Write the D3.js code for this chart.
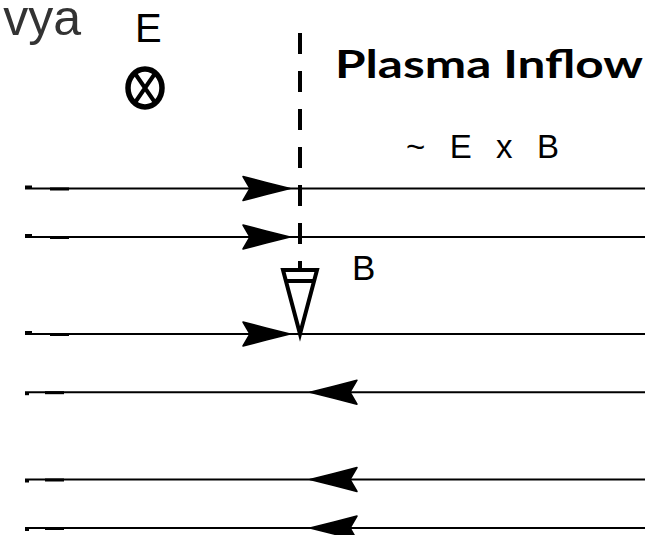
<!DOCTYPE html>
<html>
<head>
<meta charset="utf-8">
<script src="https://cdn.jsdelivr.net/npm/d3@7"></script>
<style>
  body { margin: 0; background: #fff; }
  svg { display: block; }
</style>
</head>
<body>
<svg id="viz"></svg>
<script>
// field lines: level (arbitrary units, 0 = lowest line above the sheet) and direction
const lineLevels = [3.0, 2.0, 0.0, -1.2, -3.0, -4.0];
const lineDirs   = [1, 1, 1, -1, -1, -1];

// labels
const labelVya    = "vya";
const labelE      = "E";
const labelInflow = "Plasma Inflow";
const labelExB    = "~ E x B";
const labelB      = "B";

const width = 662, height = 535;

const svg = d3.select("#viz")
  .attr("width", width)
  .attr("height", height);

// sheet sits at x = 0; 1 unit = 100px
const x = d3.scaleLinear().domain([-2.75, 3.45]).range([25, 645]);
const y = d3.scaleLinear().domain([0, 1]).range([334, 285.5]);

const lines = lineLevels.map((l, i) => ({ level: l, dir: lineDirs[i] }));

// horizontal field lines
svg.selectAll("line.field")
  .data(lines)
  .enter()
  .append("line")
  .attr("class", "field")
  .attr("x1", x(-2.75))
  .attr("x2", x(3.45))
  .attr("y1", d => y(d.level))
  .attr("y2", d => y(d.level))
  .attr("stroke", "#000")
  .attr("stroke-width", 2);

// little scanner blobs near the left edge
svg.selectAll("rect.blob")
  .data(lines)
  .enter()
  .append("rect")
  .attr("x", d => d.dir > 0 ? x(-2.5) : x(-2.55))
  .attr("y", d => y(d.level) - 1)
  .attr("width", 19)
  .attr("height", 3)
  .attr("fill", "#000");

svg.selectAll("rect.tick")
  .data(lines)
  .enter()
  .append("rect")
  .attr("x", x(-2.75))
  .attr("y", d => d.dir > 0 ? y(d.level) - 3 : y(d.level))
  .attr("width", d => d.dir > 0 ? 7 : 4)
  .attr("height", 3)
  .attr("fill", "#000");

// arrowheads: rightward ones end just left of the sheet, leftward ones just right
function arrowPath(d) {
  const s = d.dir;
  const tx = x(-0.1 * s), ty = y(d.level);
  const p = [
    [0, 0], [-24, -6], [-47, -12], [-40, 0], [-47, 12], [-24, 6]
  ].map(q => [tx + q[0] * s, ty + q[1]]);
  return "M" + p.join("L") + "Z";
}

svg.selectAll("path.arrow")
  .data(lines)
  .enter()
  .append("path")
  .attr("class", "arrow")
  .attr("d", arrowPath)
  .attr("fill", "#000")
  .attr("stroke", "#000")
  .attr("stroke-width", 1.5)
  .attr("stroke-linejoin", "round");

// dashed current sheet
svg.append("line")
  .attr("x1", x(0)).attr("x2", x(0))
  .attr("y1", 33).attr("y2", 270)
  .attr("stroke", "#000")
  .attr("stroke-width", 4)
  .attr("stroke-dasharray", "21,17");

// open triangle (B arrow) down to the third line
const tri = svg.append("g")
  .attr("fill", "none")
  .attr("stroke", "#000")
  .attr("stroke-width", 4)
  .attr("stroke-linejoin", "miter");
tri.append("path")
  .attr("d", `M${x(-0.17)},270L${x(0.17)},270L${x(0)},${y(0)}Z`);
tri.append("line")
  .attr("x1", x(-0.13)).attr("x2", x(0.13))
  .attr("y1", 281).attr("y2", 281);

// E into page symbol
const sym = svg.append("g")
  .attr("fill", "none")
  .attr("stroke", "#000")
  .attr("stroke-width", 5.5);
sym.append("ellipse")
  .attr("cx", 145).attr("cy", 88)
  .attr("rx", 17).attr("ry", 19);
sym.append("path")
  .attr("d", "M134,72L156,104M156,72L134,104")
  .attr("stroke-width", 4);

// texts
svg.append("text")
  .attr("x", 81).attr("y", 35)
  .attr("text-anchor", "end")
  .attr("font-family", "Liberation Sans, Arial, sans-serif")
  .attr("font-size", 50)
  .attr("fill", "#333")
  .text(labelVya);

svg.append("text")
  .attr("x", 135).attr("y", 42)
  .attr("font-family", "Liberation Sans, Arial, sans-serif")
  .attr("font-size", 40)
  .attr("fill", "#000")
  .text(labelE);

svg.append("text")
  .attr("x", 335).attr("y", 78)
  .attr("font-family", "Lato, Liberation Sans, sans-serif")
  .attr("font-weight", "bold")
  .attr("font-size", 39)
  .attr("textLength", 308)
  .attr("lengthAdjust", "spacingAndGlyphs")
  .attr("fill", "#000")
  .text(labelInflow);

svg.append("text")
  .attr("x", 406).attr("y", 158)
  .attr("font-family", "Liberation Sans, Arial, sans-serif")
  .attr("font-size", 33)
  .attr("textLength", 153)
  .attr("fill", "#000")
  .text(labelExB);

svg.append("text")
  .attr("x", 352).attr("y", 280)
  .attr("font-family", "Liberation Sans, Arial, sans-serif")
  .attr("font-size", 35)
  .attr("fill", "#000")
  .text(labelB);
</script>
</body>
</html>
